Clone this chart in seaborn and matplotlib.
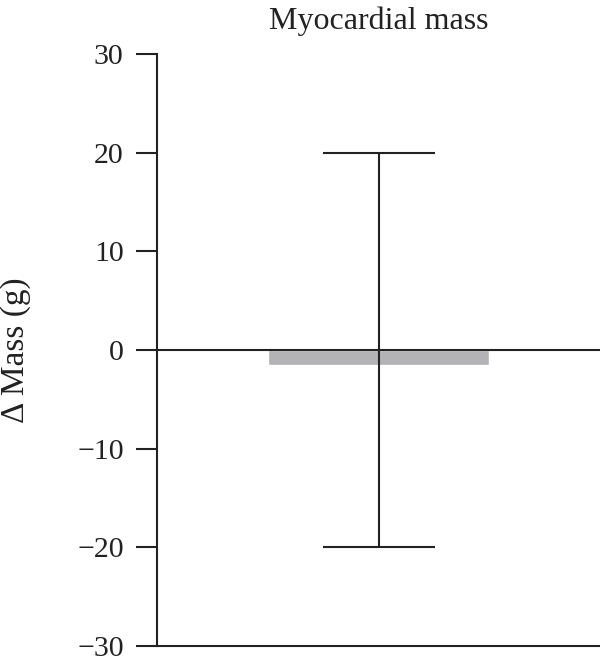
import matplotlib
matplotlib.use("Agg")
import matplotlib.pyplot as plt
import seaborn as sns
import pandas as pd

categories = ["Myocardial mass"]
values = [-1.5]
err_low = [-20]
err_high = [20]

sns.set_style("ticks")
plt.rcParams['font.family'] = ['Liberation Serif', 'DejaVu Serif']

fig = plt.figure(figsize=(6, 6.66), dpi=100)
ax = fig.add_axes([0.2617, 0.030, 0.7383, 0.8889])

df = pd.DataFrame({"cat": categories, "val": values})
sns.barplot(data=df, x="cat", y="val", color="#b3b3b5", saturation=1,
            width=0.5, errorbar=None, ax=ax, zorder=2)

mid = [(lo + hi) / 2 for lo, hi in zip(err_low, err_high)]
yerr = [[m - lo for m, lo in zip(mid, err_low)], [hi - m for m, hi in zip(mid, err_high)]]
ax.errorbar([0], mid, yerr=yerr, fmt="none", ecolor="#222222",
            elinewidth=1.5, capsize=40, capthick=1.5, zorder=3)
ax.axhline(0, color="#222222", lw=1.5, zorder=4)

ax.set_xlim(-0.5, 0.5)
ax.set_ylim(-30, 30)
ax.set_yticks([30, 20, 10, 0, -10, -20, -30])
ax.set_yticklabels(["30", "20", "10", "0", "\u221210", "\u221220", "\u221230"])
ax.set_xticks([])
ax.set_xlabel("")
ax.set_ylabel("\u0394 Mass (g)", fontsize=24, color="#222222")
ax.yaxis.set_label_coords(-0.285, 0.5)
ax.text(0.5, 1 + 33 / 592, "Myocardial mass", transform=ax.transAxes,
        ha="center", va="center", fontsize=23, color="#222222")
ax.tick_params(axis="y", length=15, width=1.5, labelsize=21.5, colors="#222222", pad=9)
for s in ["top", "right"]:
    ax.spines[s].set_visible(False)
for s in ["left", "bottom"]:
    ax.spines[s].set_linewidth(1.5)
    ax.spines[s].set_color("#222222")

fig.savefig("out.png", dpi=100)
